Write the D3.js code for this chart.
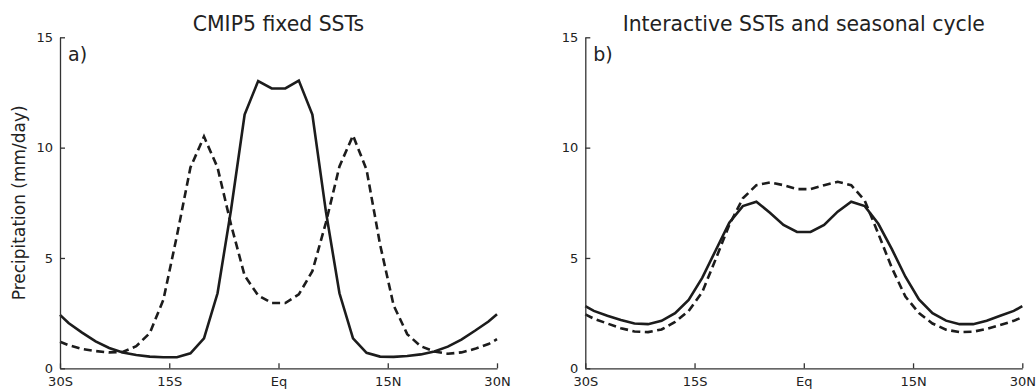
<html lang="en">
<head>
  <meta charset="UTF-8" />
  <title>Precipitation profiles</title>
  <style>
    body, html { margin: 0; padding: 0; background: white; }
    #chart { display: block; }
    text { font-family: "DejaVu Sans", sans-serif; fill: #222; }
    .axis path, .axis line { stroke: #333; stroke-width: 1.3; }
    .axis text { font-size: 13px; fill: #222; }
    .title { font-size: 20.4px; }
    .panel-label { font-size: 19px; }
    .ylabel { font-size: 17px; }
  </style>
</head>
<body>
  <svg id="chart"></svg>
  <script src="https://cdn.jsdelivr.net/npm/d3@7"></script>
  <script>
    // latitudes of the model grid (degrees, negative = south)
    const lats = [-30, -28.83, -26.97, -25.11, -23.25, -21.39, -19.53, -17.67, -15.81, -13.95, -12.09, -10.23,
      -8.37, -6.51, -4.65, -2.79, -0.93, 0.93, 2.79, 4.65, 6.51, 8.37, 10.23, 12.09, 13.95, 15.81, 17.67,
      19.53, 21.39, 23.25, 25.11, 26.97, 28.83, 30];

    // panel a) CMIP5 fixed SSTs
    const aSolid = [2.42, 2.05, 1.62, 1.22, 0.92, 0.72, 0.6, 0.53, 0.5, 0.5, 0.68, 1.36,
      3.4, 7.2, 11.5, 13.02, 12.68, 12.68, 13.04, 11.5, 7.1, 3.4, 1.36, 0.7, 0.53, 0.52, 0.56,
      0.63, 0.76, 0.98, 1.3, 1.7, 2.12, 2.45];
    const aDashed = [1.2, 1.05, 0.88, 0.78, 0.72, 0.74, 1.0, 1.6, 3.1, 6.0, 9.1, 10.5,
      9.1, 6.5, 4.2, 3.3, 2.96, 2.96, 3.35, 4.4, 6.6, 9.15, 10.55, 9.0, 5.6, 2.85, 1.55,
      1.0, 0.76, 0.66, 0.72, 0.88, 1.1, 1.32];

    // panel b) Interactive SSTs and seasonal cycle
    const bSolid = [2.82, 2.6, 2.38, 2.19, 2.03, 2.0, 2.15, 2.5, 3.1, 4.1, 5.35, 6.6,
      7.35, 7.55, 7.05, 6.5, 6.18, 6.18, 6.5, 7.1, 7.55, 7.35, 6.55, 5.4, 4.15, 3.12, 2.5,
      2.16, 2.0, 2.0, 2.16, 2.38, 2.6, 2.82];
    const bDashed = [2.44, 2.25, 2.03, 1.82, 1.67, 1.64, 1.76, 2.1, 2.6, 3.45, 4.95, 6.5,
      7.7, 8.3, 8.42, 8.3, 8.12, 8.12, 8.3, 8.45, 8.3, 7.6, 6.1, 4.55, 3.25, 2.5, 2.03,
      1.75, 1.64, 1.66, 1.78, 1.96, 2.15, 2.32];

    const xTickValues = [-30, -15, 0, 15, 30];
    const xTickLabels = ["30S", "15S", "Eq", "15N", "30N"];
    const yTickValues = [0, 5, 10, 15];
    const titles = ["CMIP5 fixed SSTs", "Interactive SSTs and seasonal cycle"];
    const panelLabels = ["a)", "b)"];
    const yLabel = "Precipitation (mm/day)";

    const W = 1036, H = 390;
    const svg = d3.select("#chart").attr("width", W).attr("height", H);
    svg.append("rect").attr("width", W).attr("height", H).attr("fill", "white");

    const panels = [
      { left: 60, solid: aSolid, dashed: aDashed },
      { left: 585.3, solid: bSolid, dashed: bDashed }
    ];
    const plotW = 437, plotTop = 37.3, plotBottom = 368.3;

    panels.forEach(function(p, i) {
      const x = d3.scaleLinear().domain([-30, 30]).range([p.left, p.left + plotW]);
      const y = d3.scaleLinear().domain([0, 15]).range([plotBottom, plotTop]);

      const g = svg.append("g");

      const line = d3.line()
        .x(function(d) { return x(d[0]); })
        .y(function(d) { return y(d[1]); });

      // lines
      g.append("path")
        .datum(d3.zip(lats, p.dashed))
        .attr("d", line)
        .attr("fill", "none")
        .attr("stroke", "#1c1c1c")
        .attr("stroke-width", 2.6)
        .attr("stroke-dasharray", "8,4.5");

      g.append("path")
        .datum(d3.zip(lats, p.solid))
        .attr("d", line)
        .attr("fill", "none")
        .attr("stroke", "#1c1c1c")
        .attr("stroke-width", 2.6)
        .attr("stroke-linejoin", "miter");

      // axes, ticks pointing inward
      const xAxis = d3.axisBottom(x)
        .tickValues(xTickValues)
        .tickFormat(function(d, j) { return xTickLabels[j]; })
        .tickSizeInner(-5).tickSizeOuter(0).tickPadding(8);
      const yAxis = d3.axisLeft(y)
        .tickValues(yTickValues)
        .tickFormat(d3.format("d"))
        .tickSizeInner(-5).tickSizeOuter(0).tickPadding(7);

      g.append("g").attr("class", "axis")
        .attr("transform", "translate(0," + plotBottom + ")")
        .call(xAxis)
        .selectAll("text").attr("dy", "0.75em");
      g.append("g").attr("class", "axis")
        .attr("transform", "translate(" + p.left + ",0)")
        .call(yAxis);

      g.append("text")
        .attr("class", "title")
        .attr("x", p.left + plotW / 2)
        .attr("y", 31)
        .attr("text-anchor", "middle")
        .text(titles[i]);

      g.append("text")
        .attr("class", "panel-label")
        .attr("x", p.left + 8)
        .attr("y", 61)
        .text(panelLabels[i]);

      if (i === 0) {
        g.append("text")
          .attr("class", "ylabel")
          .attr("transform", "translate(25," + (plotTop + plotBottom) / 2 + ") rotate(-90)")
          .attr("text-anchor", "middle")
          .text(yLabel);
      }
    });
  </script>
</body>
</html>
